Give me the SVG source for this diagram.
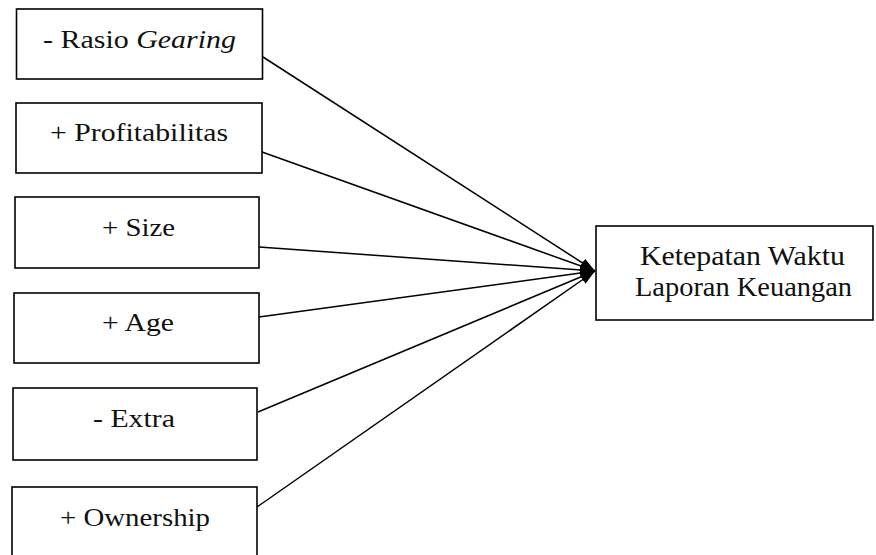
<svg xmlns="http://www.w3.org/2000/svg" width="876" height="555" viewBox="0 0 876 555">
  <style>
    .box { fill: #fff; stroke: #000; stroke-width: 1.6; }
    .conn { stroke: #000; stroke-width: 1.5; fill: none; marker-end: url(#arr); }
  </style>
  <defs>
    <marker id="arr" markerUnits="userSpaceOnUse" markerWidth="15" markerHeight="10" refX="15" refY="5" orient="auto">
      <path d="M0,0 L15,5 L0,10 z" fill="#000"/>
    </marker>
  </defs>
  <rect width="876" height="555" fill="#fff"/>
  <g id="connectors">
    <line class="conn" x1="263" y1="57" x2="595" y2="271"/>
    <line class="conn" x1="262" y1="152" x2="595" y2="271"/>
    <line class="conn" x1="259" y1="247" x2="595" y2="271"/>
    <line class="conn" x1="259" y1="317" x2="595" y2="271"/>
    <line class="conn" x1="258" y1="412" x2="595" y2="271"/>
    <line class="conn" x1="257" y1="507" x2="595" y2="271"/>
  </g>
  <g font-family="Liberation Serif, serif" font-size="26" fill="#111">
  <g id="n1">
    <rect class="box" x="16.5" y="9" width="246" height="70"/>
    <text x="43" y="48" textLength="193" lengthAdjust="spacingAndGlyphs">- Rasio <tspan font-style="italic">Gearing</tspan></text>
  </g>
  <g id="n2">
    <rect class="box" x="16" y="103" width="246" height="70"/>
    <text x="50" y="141" textLength="178" lengthAdjust="spacingAndGlyphs">+ Profitabilitas</text>
  </g>
  <g id="n3">
    <rect class="box" x="15" y="197" width="244" height="71"/>
    <text x="102" y="236" textLength="73" lengthAdjust="spacingAndGlyphs">+ Size</text>
  </g>
  <g id="n4">
    <rect class="box" x="14" y="293" width="245" height="70"/>
    <text x="102" y="331" textLength="72" lengthAdjust="spacingAndGlyphs">+ Age</text>
  </g>
  <g id="n5">
    <rect class="box" x="13" y="388" width="244" height="72"/>
    <text x="93" y="427" textLength="82" lengthAdjust="spacingAndGlyphs">- Extra</text>
  </g>
  <g id="n6">
    <rect class="box" x="12" y="487" width="245" height="80"/>
    <text x="60" y="526" textLength="150" lengthAdjust="spacingAndGlyphs">+ Ownership</text>
  </g>
  <g id="target" font-size="27">
    <rect class="box" x="596" y="226" width="277" height="94"/>
    <text x="640" y="265" textLength="205" lengthAdjust="spacingAndGlyphs">Ketepatan Waktu</text>
    <text x="635" y="296" textLength="217" lengthAdjust="spacingAndGlyphs">Laporan Keuangan</text>
  </g>
  </g>
</svg>
